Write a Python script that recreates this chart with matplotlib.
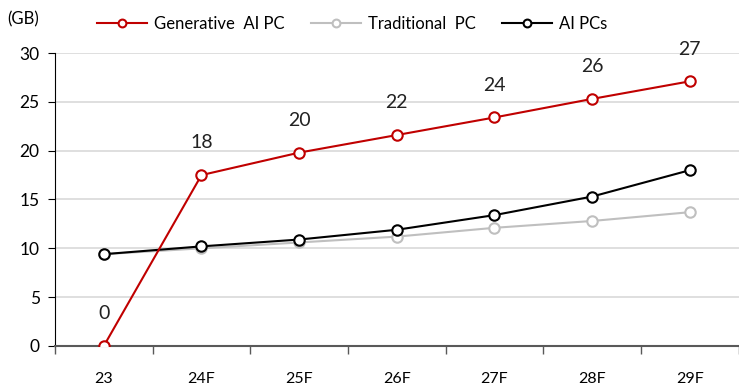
import matplotlib.pyplot as plt

years = ["23", "24F", "25F", "26F", "27F", "28F", "29F"]
gen_ai_pc = [0, 17.5, 19.8, 21.6, 23.4, 25.3, 27.1]
traditional_pc = [9.4, 10.0, 10.6, 11.2, 12.1, 12.8, 13.7]
ai_pcs = [9.4, 10.2, 10.9, 11.9, 13.4, 15.3, 18.0]
gen_labels = ["0", "18", "20", "22", "24", "26", "27"]

plt.rcParams["font.family"] = ["Lato", "DejaVu Sans"]

fig = plt.figure(figsize=(7.39, 3.87), dpi=100)
ax = fig.add_axes([0.0744, 0.106, 0.925, 0.757])

x = list(range(len(years)))
marker_style = dict(marker="o", markersize=7.5, markerfacecolor="white",
                    markeredgewidth=1.5, linewidth=1.5)

ax.plot(x, traditional_pc, color="#bfbfbf", label="Traditional  PC", zorder=3, **marker_style)
ax.plot(x, ai_pcs, color="black", label="AI PCs", zorder=4, **marker_style)
ax.plot(x, gen_ai_pc, color="#c00000", label="Generative  AI PC", zorder=5, **marker_style)

for xi, yi, lab in zip(x, gen_ai_pc, gen_labels):
    ax.annotate(lab, (xi, yi), xytext=(0, 17), textcoords="offset points",
                ha="center", va="bottom", fontsize=14, color="#222222")

ax.set_xlim(-0.5, len(years) - 0.5)
ax.set_ylim(0, 30)
ax.set_yticks(range(0, 31, 5))
ax.set_xticks(x)
ax.set_xticklabels(years)
ax.set_xticks([i - 0.5 for i in range(len(years) + 1)], minor=True)

ax.grid(axis="y", color="#d9d9d9", linewidth=1.2, zorder=0)
ax.set_axisbelow(True)

for side in ["top", "right"]:
    ax.spines[side].set_visible(False)
ax.spines["left"].set_color("black")
ax.spines["left"].set_linewidth(0.8)
ax.spines["bottom"].set_color("#595959")
ax.spines["bottom"].set_linewidth(1.5)

ax.tick_params(axis="y", length=5, width=0.8, labelsize=12.5, pad=6, colors="black")
ax.tick_params(axis="x", which="major", length=0, labelsize=11.5, pad=19)
ax.tick_params(axis="x", which="minor", length=6, width=1, color="#595959")

handles, labels = ax.get_legend_handles_labels()
order = [2, 0, 1]
ax.legend([handles[i] for i in order], [labels[i] for i in order],
          loc="lower left", bbox_to_anchor=(0.04, 1.02), ncol=3, frameon=False,
          fontsize=12, handlelength=3, columnspacing=1.6, handletextpad=0.4,
          markerscale=0.75)

fig.text(0.01, 0.95, "(GB)", fontsize=12, ha="left", va="center")

fig.savefig("out.png", dpi=100)
